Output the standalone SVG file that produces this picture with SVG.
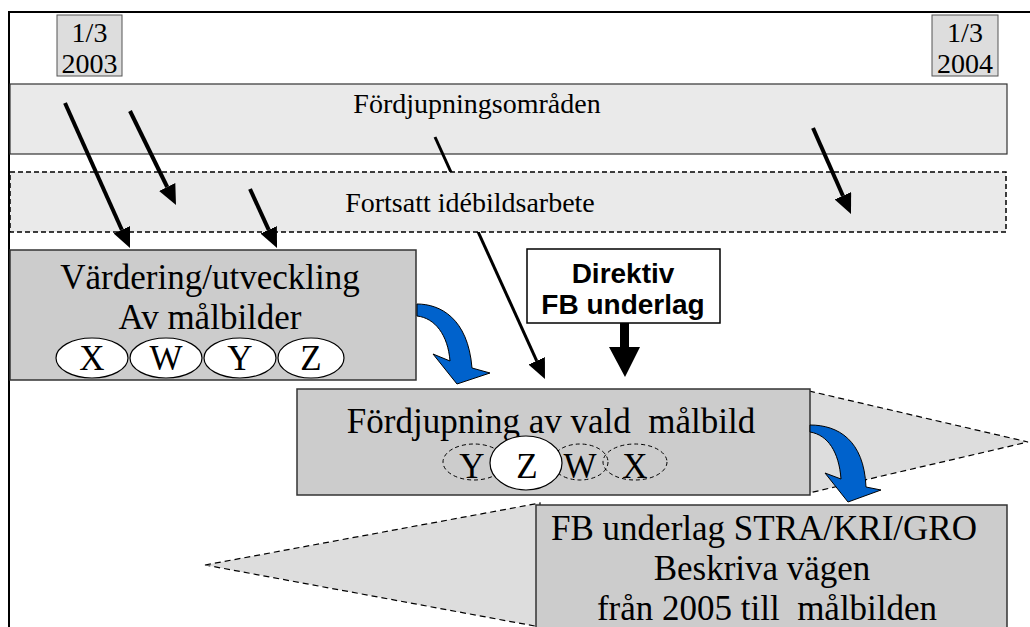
<svg xmlns="http://www.w3.org/2000/svg" width="1030" height="627" viewBox="0 0 1030 627">
<defs>
<style>
.serif{font-family:"Liberation Serif","Times New Roman",serif;fill:#000;white-space:pre}
.big{font-size:35px}
.mid{font-size:28px}
.sans{font-family:"Liberation Sans",Arial,sans-serif;font-weight:bold;font-size:28px;fill:#000}
.date{fill:#dddddd;stroke:#555;stroke-width:1}
.bar{fill:#eaeaea;stroke:#333;stroke-width:1.2}
.dbar{fill:#eaeaea;stroke:#000;stroke-width:1.5;stroke-dasharray:5,3}
.box{fill:#cccccc;stroke:#333;stroke-width:1.5}
.tri{fill:#dddddd;stroke:#000;stroke-width:1.2;stroke-dasharray:6,4}
.ell{fill:#fff;stroke:#000;stroke-width:1.2}
.dell{fill:none;stroke:#000;stroke-width:1;stroke-dasharray:4,3}
.arr{stroke:#000;stroke-width:4;fill:none}
.blue{fill:#0062cc;stroke:#000;stroke-width:1}
</style>
<marker id="ah" viewBox="0 0 20 18" refX="0" refY="9" markerWidth="20" markerHeight="18" markerUnits="userSpaceOnUse" orient="auto">
<path d="M0,0 L20,9 L0,18 Z" fill="#000"/>
</marker>
</defs>
<rect width="1030" height="627" fill="#fff"/>
<path d="M9,627 V12 H1030" fill="none" stroke="#000" stroke-width="2"/>

<g id="date2003">
<rect class="date" x="57" y="15" width="65" height="61"/>
<text class="serif mid" x="89.5" y="42" text-anchor="middle">1/3</text>
<text class="serif mid" x="89.5" y="73" text-anchor="middle">2003</text>
</g>
<g id="date2004">
<rect class="date" x="932" y="15" width="66" height="61"/>
<text class="serif mid" x="965" y="42" text-anchor="middle">1/3</text>
<text class="serif mid" x="965" y="73" text-anchor="middle">2004</text>
</g>

<g id="fordjupningsomraden">
<rect class="bar" x="10" y="84" width="997" height="70"/>
<text class="serif mid" x="477" y="113" text-anchor="middle">Fördjupningsområden</text>
</g>

<g id="connector-behind">
<path class="arr" style="stroke-width:3" d="M435,137 L536.7,360.8" marker-end="url(#ah)"/>
</g>

<g id="fortsatt">
<rect class="dbar" x="10" y="172" width="996" height="60"/>
<text class="serif mid" x="470" y="212" text-anchor="middle">Fortsatt idébildsarbete</text>
</g>

<g id="connectors">
<path class="arr" d="M65,103 L121.8,229.8" marker-end="url(#ah)"/>
<path class="arr" d="M130,111 L167.2,187" marker-end="url(#ah)"/>
<path class="arr" d="M250,189 L268.7,229.8" marker-end="url(#ah)"/>
<path class="arr" d="M813,128 L842.9,195.7" marker-end="url(#ah)"/>
<polygon points="620,323 629,323 629,347 640,347 625,377 609,347 620,347" fill="#000"/>
</g>

<g id="vardering">
<rect class="box" x="10" y="250" width="406" height="130"/>
<text class="serif big" x="210" y="289" text-anchor="middle">Värdering/utveckling</text>
<text class="serif big" x="210" y="329" text-anchor="middle">Av målbilder</text>
<ellipse class="ell" cx="92" cy="358" rx="36" ry="20"/>
<ellipse class="ell" cx="166" cy="358" rx="36" ry="20"/>
<ellipse class="ell" cx="240" cy="358" rx="36" ry="20"/>
<ellipse class="ell" cx="311" cy="358" rx="33" ry="20"/>
<text class="serif big" x="92" y="370" text-anchor="middle">X</text>
<text class="serif big" x="166" y="370" text-anchor="middle">W</text>
<text class="serif big" x="240" y="370" text-anchor="middle">Y</text>
<text class="serif big" x="311" y="370" text-anchor="middle">Z</text>
</g>

<g id="direktiv">
<rect x="527" y="249" width="193" height="74" fill="#fff" stroke="#000" stroke-width="1.5"/>
<text class="sans" x="623" y="283" text-anchor="middle">Direktiv</text>
<text class="sans" x="623" y="314" text-anchor="middle">FB underlag</text>
</g>

<g id="blue-arrow-1">
<path class="blue" d="M417,304 C440,304 468,318 472,368 L490,373 L457,384 L433,354 L450,361 C448,335 435,318 417,316 Z"/>
</g>

<g id="fordjupning-vald">
<polygon class="tri" points="809,391 1028,442 809,493"/>
<rect class="box" x="297" y="389" width="513" height="106"/>
<text class="serif big" x="551" y="433" text-anchor="middle">Fördjupning av vald  målbild</text>
<ellipse class="dell" cx="474" cy="462" rx="31" ry="18"/>
<ellipse class="dell" cx="580" cy="462" rx="28" ry="18"/>
<ellipse class="dell" cx="635" cy="462" rx="32" ry="18"/>
<ellipse class="ell" cx="526" cy="463" rx="36" ry="27"/>
<text class="serif big" x="472" y="478" text-anchor="middle">Y</text>
<text class="serif big" x="527" y="478" text-anchor="middle">Z</text>
<text class="serif big" x="580" y="478" text-anchor="middle">W</text>
<text class="serif big" x="635" y="478" text-anchor="middle">X</text>
</g>

<g id="fb-underlag">
<polygon class="tri" points="205,565 540,503 540,627"/>
<rect class="box" x="536" y="505" width="471" height="140"/>
<text class="serif big" x="764" y="540" text-anchor="middle">FB underlag STRA/KRI/GRO</text>
<text class="serif big" x="762" y="580" text-anchor="middle">Beskriva vägen</text>
<text class="serif big" x="767" y="620" text-anchor="middle">från 2005 till  målbilden</text>
</g>

<g id="blue-arrow-2">
<path class="blue" d="M810,425 C838,425 864,440 866,487 L881,490 L848,502 L825,473 L841,479 C839,452 828,435 810,432 Z"/>
</g>
</svg>
